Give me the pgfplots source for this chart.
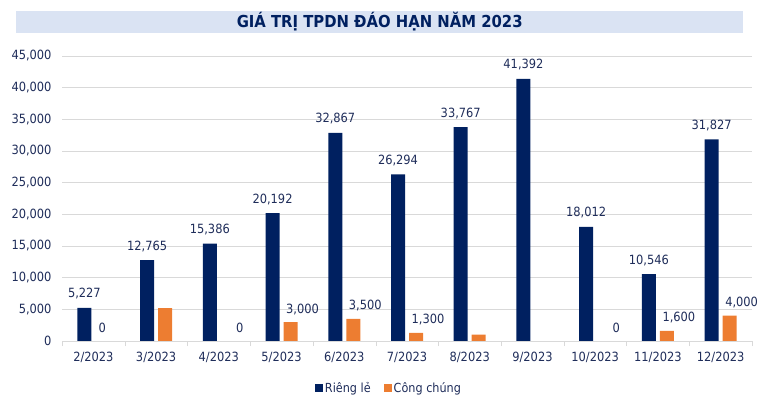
\documentclass[border=0pt]{standalone}
\usepackage{pgfplots}
\pgfplotsset{compat=1.18}
\usepackage{fontspec}
\setmainfont{DejaVu Sans Condensed}
\definecolor{navy}{HTML}{002060}
\definecolor{orng}{HTML}{ED7D31}
\definecolor{txt}{HTML}{1F2D5A}
\definecolor{ttlbg}{HTML}{DAE3F3}
\definecolor{grd}{HTML}{D9D9D9}
\begin{document}
\begin{tikzpicture}
\path[use as bounding box] (0bp,0bp) rectangle (762bp,402bp);
\node[fill=ttlbg, minimum width=727bp, minimum height=21.5bp, inner sep=0pt, anchor=north west, text=navy, font=\fontsize{16.5bp}{19bp}\selectfont\bfseries] at (16bp,391bp) {GIÁ TRỊ TPDN ĐÁO HẠN NĂM 2023};
\begin{axis}[
  at={(62bp,61bp)}, anchor=south west,
  scale only axis, width=690bp, height=285bp,
  xmin=-0.5, xmax=10.5, ymin=0, ymax=45000,
  enlargelimits=false,
  axis x line*=bottom, axis y line*=left,
  x axis line style={draw=grd, -},
  y axis line style={draw=none},
  ytick={0,5000,...,45000},
  scaled y ticks=false,
  ymajorgrids, major grid style={draw=grd},
  ytick style={draw=none},
  xtick={0,...,10},
  xticklabels={2/2023,3/2023,4/2023,5/2023,6/2023,7/2023,8/2023,9/2023,10/2023,11/2023,12/2023},
  minor xtick={-0.5,0.5,...,10.5},
  major tick length=0pt, minor tick length=5bp,
  xtick align=outside,
  minor x tick style={draw=grd},
  tick label style={text=txt, font=\fontsize{12.7bp}{15bp}\selectfont},
  xticklabel style={yshift=-8bp},
  yticklabel style={xshift=-7bp},
  /pgf/number format/1000 sep={,},
  /pgf/number format/assume math mode=true,
  legend columns=2,
  legend style={at={(0.5,0)}, xshift=-18bp, yshift=-47bp, anchor=center, draw=none, fill=none,
    font=\fontsize{12.5bp}{14bp}\selectfont, text=txt,
    nodes={inner xsep=1.5bp},
    /tikz/every even column/.append style={column sep=12bp}},
  legend image code/.code={\fill[#1] (0bp,-4bp) rectangle (8bp,4bp);},
]
\addplot[ybar, bar width=14bp, bar shift=-9bp, fill=navy, draw=none,
  point meta=y, nodes near coords,
  nodes near coords style={anchor=base, inner sep=0pt, yshift=10bp, xshift=-9bp, text=txt, font=\fontsize{12.7bp}{15bp}\selectfont}]
coordinates {(0,5227) (1,12765) (2,15386) (3,20192) (4,32867) (5,26294) (6,33767) (7,41392) (8,18012) (9,10546) (10,31827)};
\addlegendentry{Riêng lẻ}
\addplot[ybar, bar width=14bp, bar shift=9bp, fill=orng, draw=none,
  point meta=explicit symbolic, nodes near coords,
  nodes near coords style={anchor=base, inner sep=0pt, yshift=9bp, xshift=21bp, text=txt, font=\fontsize{12.7bp}{15bp}\selectfont}]
coordinates {(1,5200) [] (2,0) [0] (3,3000) [3,000] (4,3500) [3,500] (5,1300) [1,300] (6,1000) [] (8,0) [0] (9,1600) [1,600] (10,4000) [4,000]};
\addlegendentry{Công chúng}
\addplot[ybar, bar width=14bp, bar shift=9bp, fill=orng, draw=none, forget plot,
  point meta=explicit symbolic, nodes near coords,
  nodes near coords style={anchor=base, inner sep=0pt, yshift=9bp, xshift=9bp, text=txt, font=\fontsize{12.7bp}{15bp}\selectfont}]
coordinates {(0,0) [0]};
\end{axis}
\end{tikzpicture}
\end{document}
